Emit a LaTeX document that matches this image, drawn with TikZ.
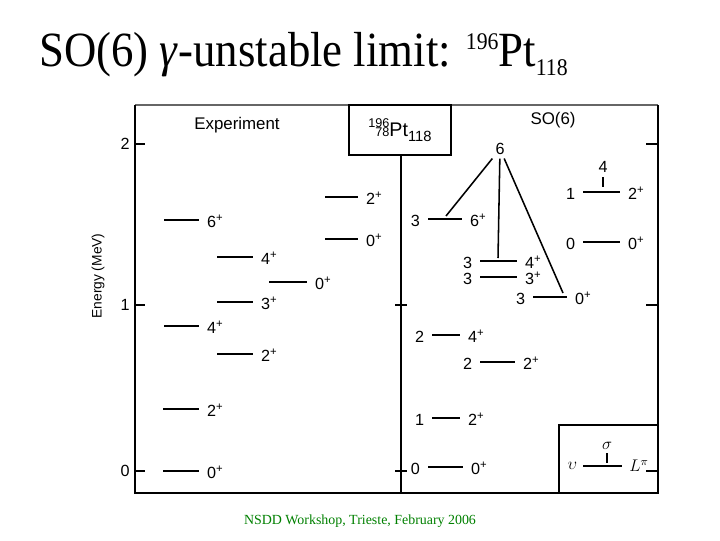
\documentclass[tikz,border=0pt]{standalone}
\usepackage{fontspec}
\setmainfont{Liberation Serif}
\newfontfamily\figfont{Liberation Sans}
\definecolor{footgreen}{RGB}{0,128,0}

\begin{document}
\begin{tikzpicture}[x=0.025cm,y=-0.025cm]
    \useasboundingbox (0,0) rectangle (720,540);

    \tikzstyle{every node}=[inner sep=0pt]
    \tikzstyle{lvl}=[line width=1.1pt]
    \tikzstyle{spin}=[font=\figfont\fontsize{11.5}{13}\selectfont,anchor=west,inner xsep=5.5pt,text height=10.5pt,text depth=0pt]
    \tikzstyle{tau}=[font=\figfont\fontsize{11.5}{13}\selectfont,anchor=east,inner xsep=5.5pt,text height=10.5pt,text depth=0pt]
    \tikzstyle{num}=[font=\figfont\fontsize{11.5}{13}\selectfont]
    \tikzstyle{frame}=[line width=1.8pt]

    % title and footer
    \node[anchor=base west,font=\fontsize{35}{38}\selectfont](title) at (39,66)
        {\scalebox{0.91}[1]{SO(6) \textit{γ}-unstable limit: \raisebox{11.5pt}{\fontsize{17}{18}\selectfont 196}Pt\raisebox{-6.5pt}{\fontsize{17}{18}\selectfont 118}}};
    \node[font=\fontsize{9.9}{11}\selectfont,text=footgreen](foot) at (360,521)
        {NSDD Workshop, Trieste, February 2006};

    % frame and axes
    \draw[line width=0.8pt,black!60] (135,105) -- (658,105);
    \draw[frame] (135,105) -- (135,493) -- (658,493) -- (658,105);
    \node[draw,line width=1.2pt,minimum width=72.3pt,minimum height=35.4pt,font=\figfont\fontsize{14}{15}\selectfont](nuc) at (400,130)
        {\makebox[0pt][l]{\raisebox{6.5pt}{\fontsize{9}{10}\selectfont 196}}{\fontsize{9}{10}\selectfont\hphantom{1}78}Pt\raisebox{-3.5pt}{\fontsize{10.5}{11}\selectfont 118}};
    \coordinate (mb) at (401,493);
    \draw[line width=1.5pt] (nuc.south -| mb) -- (mb);

    \coordinate (tl2) at (135,144);
    \coordinate (tl1) at (135,305);
    \coordinate (tl0) at (135,471);
    \coordinate (tr2) at (658,144);
    \coordinate (tr1) at (658,305);
    \coordinate (tr0) at (658,471);
    \draw[lvl] (tl2) -- ++(10,0);
    \draw[lvl] (tl1) -- ++(10,0);
    \draw[lvl] (tl0) -- ++(10,0);
    \draw[lvl] (tr2) -- ++(-12,0);
    \draw[lvl] (tr1) -- ++(-12,0);
    \draw[lvl] (tr0) -- ++(-12,0);
    \draw[lvl] (395,305) -- (407,305);
    \draw[lvl] (395,471) -- (407,471);

    \node[num,anchor=east](a2) at (130,144){2};
    \node[num,anchor=east](a1) at (130,305){1};
    \node[num,anchor=east](a0) at (130,471){0};
    \node[rotate=90,font=\figfont\fontsize{9.8}{11}\selectfont](elab) at (98,276){Energy (MeV)};

    % experiment
    \node[font=\figfont\fontsize{12}{14}\selectfont](exp) at (237,125){Experiment};
    \coordinate (e1a) at (164,220);  \node[spin](e1) at (199,220){6\textsuperscript{+}};
    \coordinate (e2a) at (217,257);  \node[spin](e2) at (253,257){4\textsuperscript{+}};
    \coordinate (e3a) at (269,282);  \node[spin](e3) at (307,282){0\textsuperscript{+}};
    \coordinate (e4a) at (217,302);  \node[spin](e4) at (253,302){3\textsuperscript{+}};
    \coordinate (e5a) at (325,197);  \node[spin](e5) at (358,197){2\textsuperscript{+}};
    \coordinate (e6a) at (325,239);  \node[spin](e6) at (358,239){0\textsuperscript{+}};
    \coordinate (e7a) at (164,326);  \node[spin](e7) at (199,326){4\textsuperscript{+}};
    \coordinate (e8a) at (217,354);  \node[spin](e8) at (253,354){2\textsuperscript{+}};
    \coordinate (e9a) at (163,409);  \node[spin](e9) at (199,409){2\textsuperscript{+}};
    \coordinate (e10a) at (163,471); \node[spin](e10) at (199,471){0\textsuperscript{+}};
    \draw[lvl] (e1a)--(e1);
    \draw[lvl] (e2a)--(e2);
    \draw[lvl] (e3a)--(e3);
    \draw[lvl] (e4a)--(e4);
    \draw[lvl] (e5a)--(e5);
    \draw[lvl] (e6a)--(e6);
    \draw[lvl] (e7a)--(e7);
    \draw[lvl] (e8a)--(e8);
    \draw[lvl] (e9a)--(e9);
    \draw[lvl] (e10a)--(e10);

    % SO(6)
    \node[font=\figfont\fontsize{12}{14}\selectfont](so6) at (553,120){SO(6)};
    \node[tau](s1a) at (428,219){3};  \node[spin](s1) at (462,219){6\textsuperscript{+}};
    \node[tau](s2a) at (480,261){3};  \node[spin](s2) at (517,261){4\textsuperscript{+}};
    \node[tau](s3a) at (480,277){3};  \node[spin](s3) at (517,277){3\textsuperscript{+}};
    \node[tau](s4a) at (533,297){3};  \node[spin](s4) at (567,297){0\textsuperscript{+}};
    \node[tau](s5a) at (583,192){1};  \node[spin](s5) at (620,192){2\textsuperscript{+}};
    \node[tau](s6a) at (583,242){0};  \node[spin](s6) at (620,242){0\textsuperscript{+}};
    \node[tau](s7a) at (432,335){2};  \node[spin](s7) at (460,335){4\textsuperscript{+}};
    \node[tau](s8a) at (480,362){2};  \node[spin](s8) at (515,362){2\textsuperscript{+}};
    \node[tau](s9a) at (432,418){1};  \node[spin](s9) at (460,418){2\textsuperscript{+}};
    \node[tau](s10a) at (428,467){0}; \node[spin](s10) at (463,467){0\textsuperscript{+}};
    \draw[lvl] (s1a)--(s1);
    \draw[lvl] (s2a)--(s2);
    \draw[lvl] (s3a)--(s3);
    \draw[lvl] (s4a)--(s4);
    \draw[lvl] (s5a)--(s5);
    \draw[lvl] (s6a)--(s6);
    \draw[lvl] (s7a)--(s7);
    \draw[lvl] (s8a)--(s8);
    \draw[lvl] (s9a)--(s9);
    \draw[lvl] (s10a)--(s10);

    % sigma = 6 band
    \node[num,inner sep=2.5pt](six) at (500,149){6};
    \coordinate (k1) at (446,216);
    \coordinate (k2) at (498,258);
    \coordinate (k3) at (563,293);
    \draw[lvl] (six)--(k1);
    \draw[lvl] (six)--(k2);
    \draw[lvl] (six)--(k3);
    \node[num,inner sep=3pt](four) at (603,167){4};
    \coordinate (k4) at (603,187);
    \draw[line width=1pt] (four)--(k4);

    % legend
    \draw[line width=1.2pt] (559,493) -- (559,425) -- (658,425);
    \node[font=\fontsize{13}{14}\selectfont,inner sep=2.5pt](sig) at (607,446){$\sigma$};
    \coordinate (k5) at (607,463);
    \draw[line width=1pt] (sig)--(k5);
    \node[font=\fontsize{12}{14}\selectfont,anchor=east,inner xsep=4pt](ups) at (583,466){$\upsilon$};
    \node[font=\fontsize{12}{14}\selectfont,anchor=west,inner xsep=5pt](lpi) at (622,466){$L^{\pi}$};
    \draw[line width=0.9pt] (ups)--(lpi);

\end{tikzpicture}
\end{document}
